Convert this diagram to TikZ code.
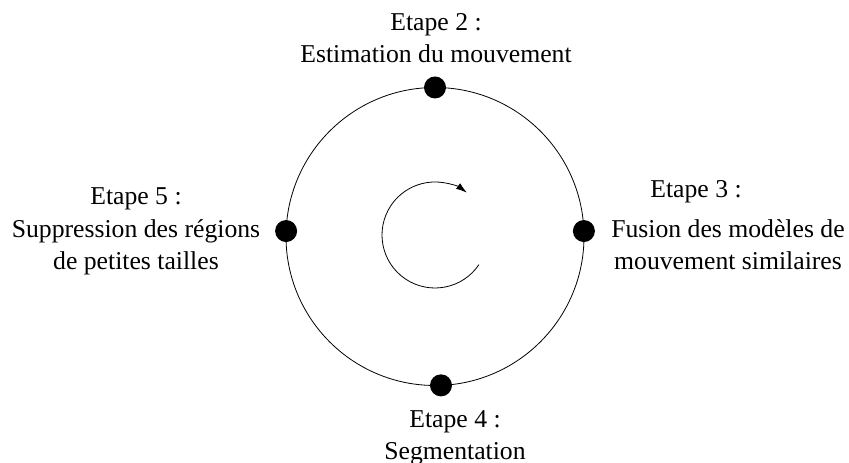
\documentclass[tikz,border=0pt]{standalone}
\usepackage{fontspec}
\setmainfont{Liberation Serif}
\usetikzlibrary{arrows.meta}

\begin{document}
\begin{tikzpicture}[
  x=1bp, y=1bp,
  dot/.style={circle, fill=black, inner sep=0pt, minimum size=22bp},
  lab/.style={align=center, anchor=base, inner sep=0pt, font=\fontsize{25.7bp}{32.5bp}\selectfont},
  cyclearrow/.style={-{Latex[length=11bp,width=7bp]}, line width=0.8bp},
]
\useasboundingbox (0,0) rectangle (849,463);

\coordinate (c) at (435,226.5);
\draw[line width=0.8bp] (c) circle[radius=149];

\node[dot] (s2) at ([shift={(90:149)}]c) {};
\node[dot] (s3) at ([shift={(2.1:149)}]c) {};
\node[dot] (s4) at ([shift={(-87.7:149)}]c) {};
\node[dot] (s5) at ([shift={(177.9:149)}]c) {};

% sens de parcours
\coordinate (mid) at (435,228);
\draw[cyclearrow] ([shift={(-34:53)}]mid) arc[start angle=-34, end angle=-307, radius=53];

\node[lab] (lab2) at (436,400) {Etape 2 :\\Estimation du mouvement};
\node[lab] (lab3a) at (696,265) {Etape 3 :};
\node[lab] (lab3) at (728,193) {Fusion des modèles de\\mouvement similaires};
\node[lab] (lab4) at (455,3) {Etape 4 :\\Segmentation};
\node[lab] (lab5) at (136,193) {Etape 5 :\\Suppression des régions\\de petites tailles};

\end{tikzpicture}
\end{document}
